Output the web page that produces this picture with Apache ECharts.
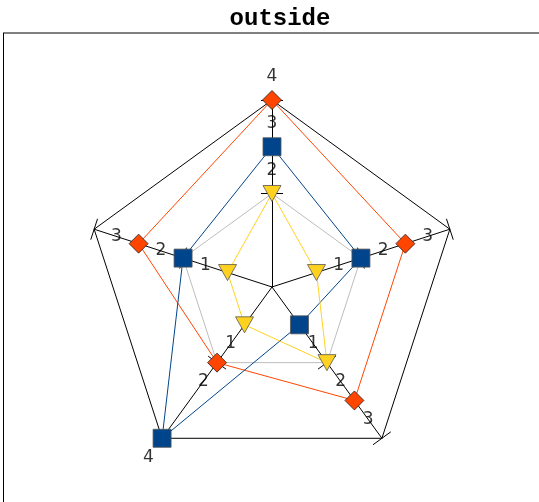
<!DOCTYPE html>
<html>
<head>
<meta charset="utf-8">
<script src="https://cdn.jsdelivr.net/npm/echarts@6/dist/echarts.min.js"></script>
<style>
  html, body { margin: 0; padding: 0; background: #fff; }
  #chart { width: 539px; height: 502px; }
</style>
</head>
<body>
<div id="chart"></div>
<script>
// axes go counter-clockwise from the top
const axisNames = ['A1', 'A2', 'A3', 'A4', 'A5'];
const axisMax = 4;
const tickValues = [2, 4];
const diamondValues = [4, 3, 2, 3, 3];
const squareValues = [3, 2, 4, 1, 2];
const triangleValues = [2, 1, 1, 2, 1];
const LABEL_SHIFT = 0.5; // data labels sit a bit further out along each axis

const CENTER = [272, 287];
const RADIUS = 187;
const LABEL_AXIS_MAX = 5; // the label layer needs room past the outer ring
const TICK_LEN = 11;

const seriesDefs = [
	{ name: 'diamond', values: diamondValues, color: '#ff4500', symbol: 'diamond', size: [19, 19], border: '#222' },
	{ name: 'square', values: squareValues, color: '#00458c', symbol: 'rect', size: [18, 18], border: '#555' },
	{ name: 'triangle', values: triangleValues, color: '#ffd21f', symbol: 'triangle', size: [18, 16], border: '#555', rotate: 180 }
];

function labelPoints() {
	// collect the value labels of every series, one per axis (duplicates share a spot)
	const seen = {};
	const points = [];
	seriesDefs.forEach(s => {
		s.values.forEach((v, i) => {
			const key = i + '_' + v;
			if (seen[key]) {
				return;
			}
			seen[key] = true;
			points.push({ value: [v + LABEL_SHIFT, i * 360 / axisNames.length], text: String(v) });
		});
	});
	return points;
}

const chart = echarts.init(document.getElementById('chart'));

const radarBase = {
	center: CENTER,
	radius: RADIUS,
	startAngle: 90,
	splitNumber: 2,
	shape: 'polygon',
	indicator: axisNames.map(n => ({ name: n, min: 0, max: axisMax })),
	axisName: { show: false },
	splitArea: { show: false }
};

const option = {
	animation: false,
	title: {
		text: 'outside',
		left: 275,
		top: 2,
		textAlign: 'center',
		textStyle: { fontFamily: 'Liberation Mono', fontWeight: 'bold', fontSize: 24, color: '#000' }
	},
	graphic: [
		{ type: 'line', shape: { x1: 3, y1: 33, x2: 600, y2: 33 }, style: { stroke: '#808080', lineWidth: 2 } },
		{ type: 'line', shape: { x1: 3.5, y1: 33, x2: 3.5, y2: 600 }, style: { stroke: '#000', lineWidth: 1 } }
	],
	radar: [
		Object.assign({}, radarBase, {
			axisLine: { lineStyle: { color: '#000', width: 1 } },
			axisTick: { show: true, length: TICK_LEN, customValues: tickValues, lineStyle: { color: '#000' } },
			splitLine: { lineStyle: { color: ['#bdbdbd', '#000'], width: 1 } }
		}),
		// second copy only to put the ticks on the other side of each axis
		Object.assign({}, radarBase, {
			axisLine: { show: true, lineStyle: { color: 'rgba(0,0,0,0)' } },
			axisTick: { show: true, length: -TICK_LEN, customValues: tickValues, lineStyle: { color: '#000' } },
			splitLine: { show: false }
		})
	],
	polar: { center: CENTER, radius: RADIUS * LABEL_AXIS_MAX / axisMax },
	angleAxis: { type: 'value', min: 0, max: 360, startAngle: 90, clockwise: false, show: false },
	radiusAxis: { type: 'value', min: 0, max: LABEL_AXIS_MAX, show: false },
	series: seriesDefs.map(s => ({
		type: 'radar',
		radarIndex: 0,
		name: s.name,
		symbol: s.symbol,
		symbolSize: s.size,
		symbolRotate: s.rotate || 0,
		lineStyle: { color: s.color, width: 1 },
		itemStyle: { color: s.color, borderColor: s.border, borderWidth: 0.8 },
		z: 3,
		data: [{ value: s.values }]
	})).concat([{
		type: 'scatter',
		coordinateSystem: 'polar',
		symbolSize: 0,
		z: 4,
		label: {
			show: true,
			position: 'inside',
			formatter: p => p.data.text,
			fontFamily: 'DejaVu Sans',
			fontSize: 17,
			color: '#000'
		},
		data: labelPoints()
	}])
};

chart.setOption(option);
</script>
</body>
</html>
